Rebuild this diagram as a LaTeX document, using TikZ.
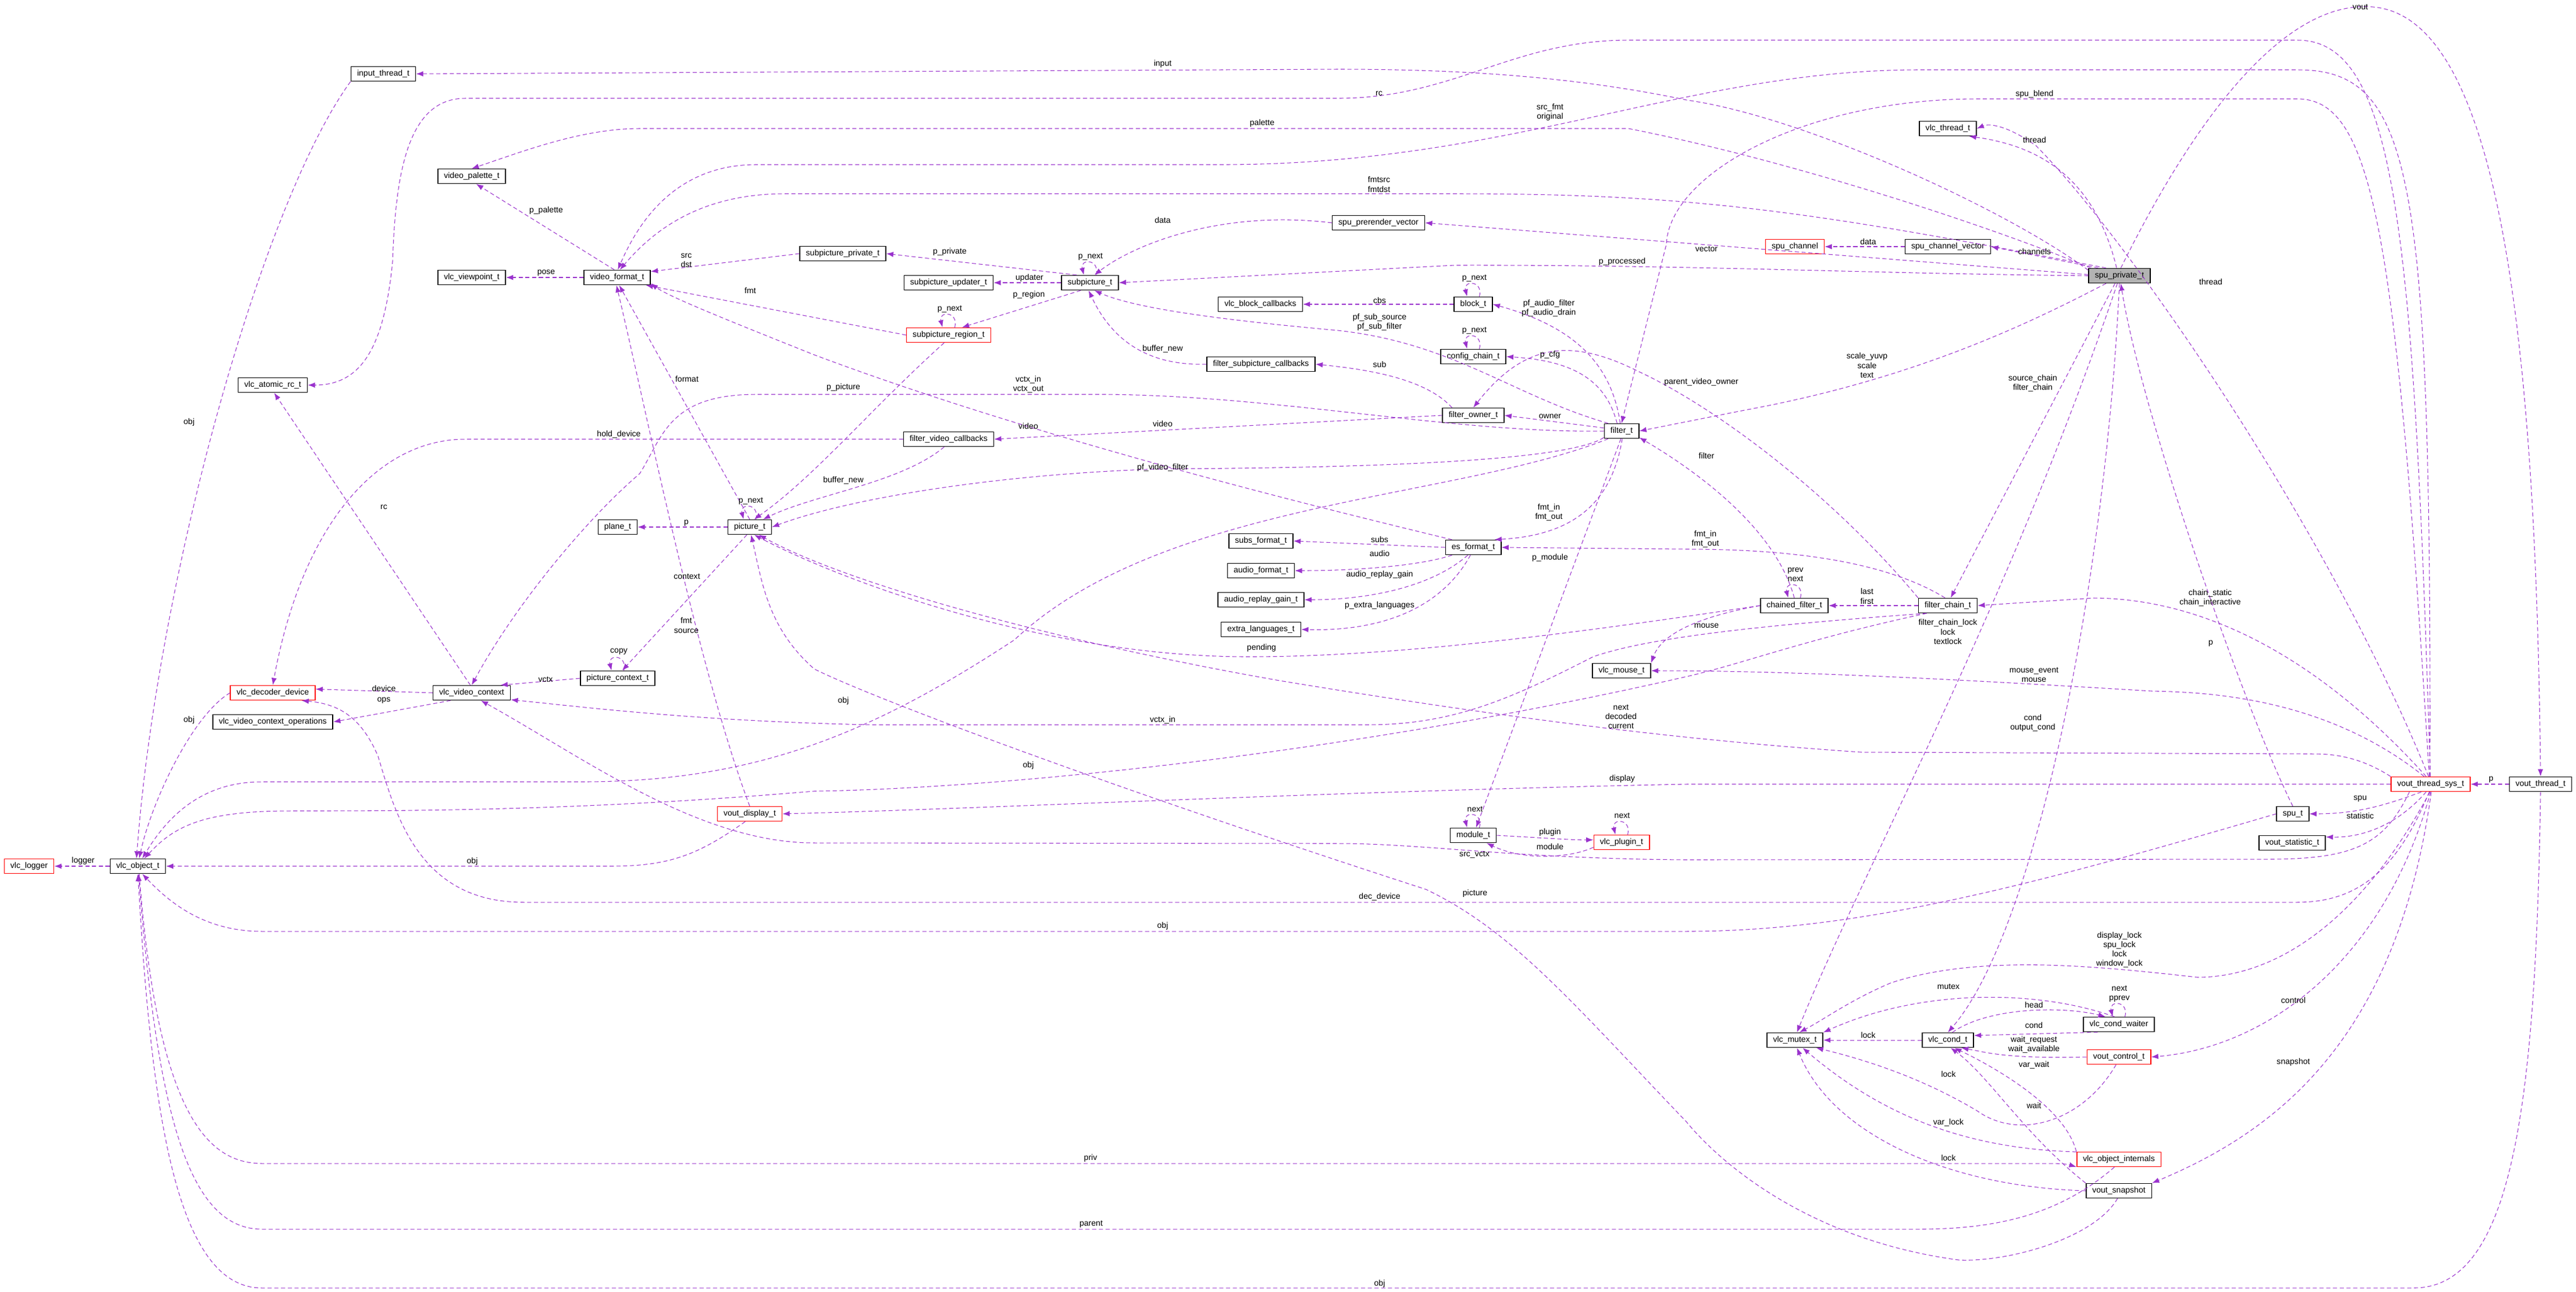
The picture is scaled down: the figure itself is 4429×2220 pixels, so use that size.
\documentclass[tikz,border=0pt]{standalone}
\usepackage{fontspec}
\setmainfont{Liberation Sans}
\usetikzlibrary{arrows.meta}
\definecolor{ec}{RGB}{154,50,205}
\begin{document}
\begin{tikzpicture}[x=0.01cm,y=-0.01cm,
  box/.style={draw=black,line width=0.45pt,fill=white,minimum height=7.1pt,inner xsep=3pt,inner ysep=0pt,font=\fontsize{4}{4.6}\selectfont},
  rbox/.style={box,draw=red},
  gbox/.style={box,fill=black!30},
  e/.style={draw=ec,line width=0.3pt,dash pattern=on 2pt off 1.3pt,-{Latex[length=3.5pt,width=2.6pt]}},
  lab/.style={inner sep=0pt,align=center,font=\fontsize{4}{4.6}\selectfont}]
\path[use as bounding box,fill=white] (0,0) rectangle (4429,2220);
% nodes
\node[box] (in) at (659,127) {input\_thread\_t};
\node[box] (pal) at (811,303) {video\_palette\_t};
\node[box] (vp) at (811,477) {vlc\_viewpoint\_t};
\node[box] (vf) at (1061,477) {video\_format\_t};
\node[box] (rc) at (469,662) {vlc\_atomic\_rc\_t};
\node[box] (plane) at (1062,906) {plane\_t};
\node[box] (pic) at (1289,906) {picture\_t};
\node[box] (spp) at (1449,436) {subpicture\_private\_t};
\node[box] (prv) at (2370,383) {spu\_prerender\_vector};
\node[box] (sub) at (1874,486) {subpicture\_t};
\node[box] (upd) at (1631,486) {subpicture\_updater\_t};
\node[rbox] (reg) at (1631,576) {subpicture\_region\_t};
\node[box] (bcb) at (2167,523) {vlc\_block\_callbacks};
\node[box] (blk) at (2533,523) {block\_t};
\node[box] (cfg) at (2533,613) {config\_chain\_t};
\node[box] (fsc) at (2168,626) {filter\_subpicture\_callbacks};
\node[box] (fo) at (2533,714) {filter\_owner\_t};
\node[box] (flt) at (2788,741) {filter\_t};
\node[box] (fvc) at (1631,755) {filter\_video\_callbacks};
\node[box] (es) at (2533,941) {es\_format\_t};
\node[box] (subs) at (2168,930) {subs\_format\_t};
\node[box] (af) at (2168,981) {audio\_format\_t};
\node[box] (arg) at (2168,1031) {audio\_replay\_gain\_t};
\node[box] (el) at (2168,1082) {extra\_languages\_t};
\node[box] (th) at (3349,221) {vlc\_thread\_t};
\node[rbox] (sch) at (3086,424) {spu\_channel};
\node[box] (scv) at (3349,424) {spu\_channel\_vector};
\node[gbox] (spu) at (3644,474) {spu\_private\_t};
\node[box] (cf) at (3085,1041) {chained\_filter\_t};
\node[box] (fc) at (3349,1041) {filter\_chain\_t};
\node[rbox] (dd) at (469,1191) {vlc\_decoder\_device};
\node[box] (vc) at (811,1191) {vlc\_video\_context};
\node[box] (pc) at (1062,1166) {picture\_context\_t};
\node[box] (vco) at (469,1241) {vlc\_video\_context\_operations};
\node[rbox] (vd) at (1289,1399) {vout\_display\_t};
\node[rbox] (log) at (50,1489) {vlc\_logger};
\node[box] (obj) at (237,1489) {vlc\_object\_t};
\node[box] (mouse) at (2788,1153) {vlc\_mouse\_t};
\node[box] (mod) at (2533,1436) {module\_t};
\node[rbox] (plug) at (2788,1448) {vlc\_plugin\_t};
\node[rbox] (vts) at (4179,1348) {vout\_thread\_sys\_t};
\node[box] (vt) at (4368,1348) {vout\_thread\_t};
\node[box] (spt) at (3942,1399) {spu\_t};
\node[box] (stat) at (3941,1449) {vout\_statistic\_t};
\node[box] (mtx) at (3086,1788) {vlc\_mutex\_t};
\node[box] (cnd) at (3349,1788) {vlc\_cond\_t};
\node[box] (cw) at (3643,1761) {vlc\_cond\_waiter};
\node[rbox] (ctl) at (3643,1817) {vout\_control\_t};
\node[rbox] (oi) at (3643,1993) {vlc\_object\_internals};
\node[box] (snap) at (3643,2047) {vout\_snapshot};
% self loops
\foreach \n in {pic,sub,reg,blk,cfg,cf,mod,plug,pc,cw}
  \draw[e] ([xshift=3pt]\n.north) .. controls +(2pt,8pt) and +(-2pt,8pt) .. ([xshift=-3pt]\n.north);
% edges
\draw[e] (in.south west) .. controls (450,350) and (270,1000) .. (obj.100);
\draw[e] (vf.110) -- (pal.-60);
\draw[e] (vf.west) -- (vp.east);
\draw[e] (spp.west) -- (vf.10);
\draw[e] (reg.west) -- (vf.-15);
\draw[e] (pic.north) -- (vf.-75);
\draw[e] (vd.north) .. controls (1200,1150) and (1110,700) .. (vf.-95);
\draw[e] (es.160) .. controls (2300,880) and (1800,760) .. (1400,610) .. controls (1250,550) and (1150,510) .. (vf.-10);
\draw[e] (spu.150) .. controls (3100,360) and (2900,333) .. (2500,333) -- (1350,333) .. controls (1200,333) and (1120,400) .. (vf.70);
\draw[e] (vts.95) .. controls (4180,300) and (4150,120) .. (3950,120) -- (3300,120) .. controls (2900,120) and (2600,283) .. (2100,283) -- (1300,283) .. controls (1150,283) and (1090,400) .. (vf.85);
\draw[e] (vts.92) .. controls (4150,400) and (4120,69) .. (3950,69) -- (2800,69) .. controls (2600,69) and (2500,169) .. (2300,169) -- (800,169) .. controls (700,169) and (680,300) .. (675,450) .. controls (660,600) and (620,662) .. (rc.east);
\draw[e] (spu.170) .. controls (3450,360) and (3100,200) .. (2900,172) .. controls (2700,130) and (2500,119) .. (2300,119) -- (in.east);
\draw[e] (spu.165) .. controls (3450,400) and (3100,280) .. (2800,221) -- (1100,221) .. controls (1000,221) and (900,260) .. (pal.north);
\draw[e] (vts.100) .. controls (4120,400) and (4080,170) .. (3950,170) -- (3400,170) .. controls (3100,170) and (2870,300) .. (2865,420) -- (flt.north);
\draw[e] (prv.west) .. controls (2100,360) and (1950,420) .. (sub.60);
\draw[e] (sub.150) -- (spp.east);
\draw[e] (spu.west) .. controls (3200,470) and (2900,455) .. (2500,456) -- (sub.east);
\draw[e] (sub.west) -- (upd.east);
\draw[e] (sub.220) -- (reg.30);
\draw[e] (blk.west) -- (bcb.east);
\draw[e] (flt.100) .. controls (2770,620) and (2700,560) .. (blk.east);
\draw[e] (flt.150) .. controls (2600,680) and (2500,590) .. (2300,568) .. controls (2100,550) and (1950,530) .. (sub.-60);
\draw[e] (fsc.west) .. controls (1950,630) and (1900,560) .. (sub.-100);
\draw[e] (flt.120) .. controls (2760,650) and (2700,620) .. (cfg.east);
\draw[e] (fc.north west) .. controls (3150,850) and (2950,700) .. (2816,638) .. controls (2700,580) and (2620,590) .. (fo.north);
\draw[e] (fo.160) .. controls (2450,650) and (2350,635) .. (fsc.east);
\draw[e] (flt.west) .. controls (2500,745) and (2200,680) .. (1900,678) -- (1300,678) .. controls (1150,678) and (1140,750) .. (1100,814) .. controls (1000,900) and (880,1050) .. (vc.north);
\draw[e] (flt.170) -- (fo.east);
\draw[e] (fo.west) -- (fvc.east);
\draw[e] (fvc.west) -- (800,755) .. controls (650,755) and (520,900) .. (dd.north);
\draw[e] (flt.-160) .. controls (2700,790) and (2400,804) .. (2000,806) .. controls (1700,815) and (1450,860) .. (pic.east);
\draw[e] (flt.-85) .. controls (2770,870) and (2700,920) .. (es.20);
\draw[e] (es.west) -- (subs.east);
\draw[e] (es.200) .. controls (2450,970) and (2350,981) .. (af.east);
\draw[e] (es.235) .. controls (2460,1010) and (2350,1031) .. (arg.east);
\draw[e] (es.-110) .. controls (2470,1060) and (2350,1085) .. (el.east);
\draw[e] (flt.-95) -- (mod.70);
\draw[e] (flt.-150) .. controls (2500,860) and (2000,860) .. (1744,1100) .. controls (1500,1260) and (1300,1344) .. (1000,1344) -- (450,1344) .. controls (350,1344) and (290,1400) .. (obj.60);
\draw[e] (reg.-120) .. controls (1500,700) and (1400,820) .. (pic.60);
\draw[e] (fvc.-120) .. controls (1550,830) and (1400,850) .. (pic.30);
\draw[e] (pic.west) -- (plane.east);
\draw[e] (pic.-110) -- (pc.60);
\draw[e] (pc.west) -- (vc.15);
\draw[e] (vc.west) -- (dd.5);
\draw[e] (vc.200) -- (vco.east);
\draw[e] (vc.100) -- (rc.-80);
\draw[e] (dd.west) .. controls (330,1230) and (260,1380) .. (obj.80);
\draw[e] (vd.-120) .. controls (1200,1470) and (1150,1489) .. (1050,1489) -- (obj.east);
\draw[e] (obj.west) -- (log.east);
\draw[e] (cf.west) .. controls (2700,1090) and (2400,1129) .. (2146,1129) .. controls (1800,1129) and (1450,1000) .. (pic.-60);
\draw[e] (vts.north west) .. controls (4050,1296) and (4000,1296) .. (3972,1296) -- (3200,1293) .. controls (2900,1273) and (2600,1236) .. (2200,1170) .. controls (1800,1100) and (1450,1000) .. (pic.-40);
\draw[e] (cf.north) .. controls (3050,900) and (2900,800) .. (flt.-20);
\draw[e] (fc.west) -- (cf.east);
\draw[e] (fc.110) .. controls (3250,970) and (3100,944) .. (2900,944) -- (es.east);
\draw[e] (cf.west) .. controls (2950,1055) and (2860,1080) .. (mouse.north east);
\draw[e] (vts.130) .. controls (4000,1200) and (3800,1190) .. (3700,1188) .. controls (3400,1170) and (3100,1153) .. (mouse.east);
\draw[e] (fc.200) .. controls (3100,1070) and (2850,1090) .. (2739,1129) .. controls (2600,1200) and (2500,1246) .. (2350,1246) -- (1500,1246) .. controls (1200,1240) and (1000,1215) .. (vc.-10);
\draw[e] (fc.-160) .. controls (3100,1100) and (3000,1140) .. (2900,1163) .. controls (2300,1300) and (1700,1356) .. (1400,1360) .. controls (1000,1394) and (700,1394) .. (500,1394) .. controls (350,1394) and (300,1420) .. (obj.50);
\draw[e] (vts.west) -- (2900,1348) .. controls (2300,1360) and (1700,1390) .. (vd.east);
\draw[e] (mod.east) .. controls (2650,1440) and (2700,1444) .. (plug.175);
\draw[e] (plug.-170) .. controls (2700,1475) and (2620,1480) .. (mod.-30);
\draw[e] (vts.-160) .. controls (4100,1450) and (4050,1477) .. (3900,1477) -- (2900,1478) .. controls (2600,1476) and (2450,1450) .. (2300,1450) -- (1400,1449) .. controls (1200,1449) and (1000,1300) .. (vc.-40);
\draw[e] (vts.-100) .. controls (4120,1500) and (4050,1551) .. (3950,1551) -- (900,1551) .. controls (720,1551) and (680,1400) .. (650,1300) .. controls (620,1230) and (580,1210) .. (dd.-15);
\draw[e] (spt.west) .. controls (3500,1520) and (3200,1601) .. (2900,1601) -- (450,1601) .. controls (350,1601) and (290,1550) .. (obj.-60);
\draw[e] (vts.-140) .. controls (4100,1385) and (4050,1399) .. (spt.east);
\draw[e] (vts.-120) .. controls (4120,1420) and (4060,1440) .. (stat.10);
\draw[e] (vt.west) -- (vts.east);
\draw[e] (vts.-95) .. controls (4050,1600) and (3900,1680) .. (3778,1680) .. controls (3600,1660) and (3400,1640) .. (3250,1690) .. controls (3180,1720) and (3140,1750) .. (mtx.60);
\draw[e] (vts.-90) .. controls (4100,1650) and (3900,1800) .. (ctl.east);
\draw[e] (vts.-85) .. controls (4120,1800) and (3900,1950) .. (snap.north east);
\draw[e] (vts.105) .. controls (4000,900) and (3650,400) .. (3500,250) .. controls (3450,215) and (3420,212) .. (th.east);
\draw[e] (vts.120) .. controls (4050,1200) and (3850,1030) .. (3600,1028) -- (fc.east);
\draw[e] (spu.-120) -- (fc.70);
\draw[e] (spu.-150) .. controls (3500,550) and (3300,650) .. (3000,705) -- (flt.east);
\draw[e] (spu.110) .. controls (3600,300) and (3500,250) .. (th.-20);
\draw[e] (spu.160) -- (scv.east);
\draw[e] (scv.west) -- (sch.east);
\draw[e] (spu.178) -- (prv.east);
\draw[e] (spu.80) .. controls (3800,150) and (3950,0) .. (4080,12) .. controls (4300,30) and (4360,600) .. (vt.north);
\draw[e] (spt.north) .. controls (3850,1200) and (3680,700) .. (spu.-80);
\draw[e] (spu.-105) .. controls (3450,1050) and (3200,1500) .. (mtx.75);
\draw[e] (spu.-90) .. controls (3620,1000) and (3500,1600) .. (cnd.north);
\draw[e] (cw.120) .. controls (3500,1700) and (3300,1700) .. (mtx.north east);
\draw[e] (cnd.60) .. controls (3420,1730) and (3550,1730) .. (cw.150);
\draw[e] (cw.200) -- (cnd.10);
\draw[e] (cnd.west) -- (mtx.east);
\draw[e] (ctl.west) .. controls (3450,1820) and (3420,1810) .. (cnd.-30);
\draw[e] (oi.north west) .. controls (3550,1900) and (3420,1830) .. (cnd.-50);
\draw[e] (ctl.-110) .. controls (3580,1930) and (3470,1960) .. (3400,1910) .. controls (3300,1850) and (3200,1820) .. (mtx.-20);
\draw[e] (snap.north west) .. controls (3480,1950) and (3420,1850) .. (cnd.-70);
\draw[e] (oi.170) .. controls (3400,1975) and (3250,1930) .. (mtx.-45);
\draw[e] (snap.west) .. controls (3350,2040) and (3150,1950) .. (mtx.-75);
\draw[e] (obj.-80) .. controls (270,1900) and (350,2000) .. (450,2000) -- (3500,2000) .. controls (3540,2000) and (3550,2000) .. (oi.190);
\draw[e] (oi.-120) .. controls (3550,2080) and (3450,2113) .. (3300,2113) -- (450,2113) .. controls (320,2113) and (270,1900) .. (obj.-85);
\draw[e] (vt.south) .. controls (4360,1900) and (4320,2214) .. (4150,2214) -- (450,2214) .. controls (300,2214) and (260,1900) .. (obj.-90);
\draw[e] (snap.-100) .. controls (3600,2130) and (3450,2170) .. (3368,2166) .. controls (3100,2130) and (2950,1990) .. (2900,1929) .. controls (2700,1720) and (2600,1600) .. (2452,1529) .. controls (1900,1350) and (1500,1200) .. (1400,1150) .. controls (1320,1080) and (1310,1000) .. (pic.-80);
% labels
\node[lab] (l1) at (325,726) {obj};
\node[lab] (l2) at (939,362) {p\_palette};
\node[lab] (l3) at (939,469) {pose};
\node[lab] (l4) at (1180,448) {src\\dst};
\node[lab] (l5) at (1290,499) {fmt};
\node[lab] (l6) at (1181,651) {format};
\node[lab] (l7) at (1450,666) {p\_picture};
\node[lab] (l8) at (1064,747) {hold\_device};
\node[lab] (l9) at (660,872) {rc};
\node[lab] (l10) at (1450,826) {buffer\_new};
\node[lab] (l11) at (1291,861) {p\_next};
\node[lab] (l12) at (1180,899) {p};
\node[lab] (l13) at (1181,991) {context};
\node[lab] (l14) at (1180,1075) {fmt\\source};
\node[lab] (l15) at (1999,110) {input};
\node[lab] (l16) at (2371,161) {rc};
\node[lab] (l17) at (2665,193) {src\_fmt\\original};
\node[lab] (l18) at (2170,212) {palette};
\node[lab] (l19) at (2371,317) {fmtsrc\\fmtdst};
\node[lab] (l20) at (1999,378) {data};
\node[lab] (l21) at (1633,433) {p\_private};
\node[lab] (l22) at (1875,441) {p\_next};
\node[lab] (l23) at (2789,450) {p\_processed};
\node[lab] (l24) at (1770,478) {updater};
\node[lab] (l25) at (2535,478) {p\_next};
\node[lab] (l26) at (1769,507) {p\_region};
\node[lab] (l27) at (2372,516) {cbs};
\node[lab] (l28) at (2663,530) {pf\_audio\_filter\\pf\_audio\_drain};
\node[lab] (l29) at (1633,531) {p\_next};
\node[lab] (l30) at (2372,554) {pf\_sub\_source\\pf\_sub\_filter};
\node[lab] (l31) at (2535,568) {p\_next};
\node[lab] (l32) at (1999,600) {buffer\_new};
\node[lab] (l33) at (2665,610) {p\_cfg};
\node[lab] (l34) at (2925,657) {parent\_video\_owner};
\node[lab] (l35) at (2372,626) {sub};
\node[lab] (l36) at (1768,661) {vctx\_in\\vctx\_out};
\node[lab] (l37) at (2665,716) {owner};
\node[lab] (l38) at (1768,732) {video};
\node[lab] (l39) at (1999,728) {video};
\node[lab] (l40) at (1999,804) {pf\_video\_filter};
\node[lab] (l41) at (2663,881) {fmt\_in\\fmt\_out};
\node[lab] (l42) at (2372,927) {subs};
\node[lab] (l43) at (2372,951) {audio};
\node[lab] (l44) at (2372,988) {audio\_replay\_gain};
\node[lab] (l45) at (2372,1041) {p\_extra\_languages};
\node[lab] (l46) at (2665,959) {p\_module};
\node[lab] (l47) at (4058,12) {vout};
\node[lab] (l48) at (3498,162) {spu\_blend};
\node[lab] (l49) at (3498,240) {thread};
\node[lab] (l50) at (3801,484) {thread};
\node[lab] (l51) at (3212,415) {data};
\node[lab] (l52) at (3498,432) {channels};
\node[lab] (l53) at (2934,428) {vector};
\node[lab] (l54) at (3210,628) {scale\_yuvp\\scale\\text};
\node[lab] (l55) at (3495,659) {source\_chain\\filter\_chain};
\node[lab] (l56) at (2934,783) {filter};
\node[lab] (l57) at (2932,927) {fmt\_in\\fmt\_out};
\node[lab] (l58) at (3087,988) {prev\\next};
\node[lab] (l59) at (3210,1025) {last\\first};
\node[lab] (l60) at (3800,1028) {chain\_static\\chain\_interactive};
\node[lab] (l61) at (2934,1076) {mouse};
\node[lab] (l62) at (3349,1086) {filter\_chain\_lock\\lock\\textlock};
\node[lab] (l63) at (3495,1243) {cond\\output\_cond};
\node[lab] (l64) at (3801,1106) {p};
\node[lab] (l65) at (2169,1114) {pending};
\node[lab] (l66) at (1450,1205) {obj};
\node[lab] (l67) at (1999,1238) {vctx\_in};
\node[lab] (l68) at (2787,1232) {next\\decoded\\current};
\node[lab] (l69) at (1768,1316) {obj};
\node[lab] (l70) at (2789,1339) {display};
\node[lab] (l71) at (2536,1391) {next};
\node[lab] (l72) at (2665,1431) {plugin};
\node[lab] (l73) at (2789,1402) {next};
\node[lab] (l74) at (2665,1455) {module};
\node[lab] (l75) at (2535,1469) {src\_vctx};
\node[lab] (l76) at (2372,1542) {dec\_device};
\node[lab] (l77) at (1999,1592) {obj};
\node[lab] (l78) at (1875,1991) {priv};
\node[lab] (l79) at (1876,2104) {parent};
\node[lab] (l80) at (2372,2207) {obj};
\node[lab] (l81) at (2536,1536) {picture};
\node[lab] (l82) at (1064,1120) {copy};
\node[lab] (l83) at (660,1183) {device};
\node[lab] (l84) at (660,1204) {ops};
\node[lab] (l85) at (938,1168) {vctx};
\node[lab] (l86) at (325,1238) {obj};
\node[lab] (l87) at (143,1480) {logger};
\node[lab] (l88) at (812,1481) {obj};
\node[lab] (l89) at (3497,1160) {mouse\_event\\mouse};
\node[lab] (l90) at (4283,1340) {p};
\node[lab] (l91) at (4058,1373) {spu};
\node[lab] (l92) at (4058,1402) {statistic};
\node[lab] (l93) at (3644,1633) {display\_lock\\spu\_lock\\lock\\window\_lock};
\node[lab] (l94) at (3350,1696) {mutex};
\node[lab] (l95) at (3644,1708) {next\\pprev};
\node[lab] (l96) at (3497,1727) {head};
\node[lab] (l97) at (3943,1719) {control};
\node[lab] (l98) at (3497,1762) {cond};
\node[lab] (l99) at (3212,1779) {lock};
\node[lab] (l100) at (3497,1796) {wait\_request\\wait\_available};
\node[lab] (l101) at (3943,1826) {snapshot};
\node[lab] (l102) at (3497,1831) {var\_wait};
\node[lab] (l103) at (3350,1846) {lock};
\node[lab] (l104) at (3497,1900) {wait};
\node[lab] (l105) at (3350,1930) {var\_lock};
\node[lab] (l106) at (3350,1990) {lock};
\end{tikzpicture}
\end{document}
